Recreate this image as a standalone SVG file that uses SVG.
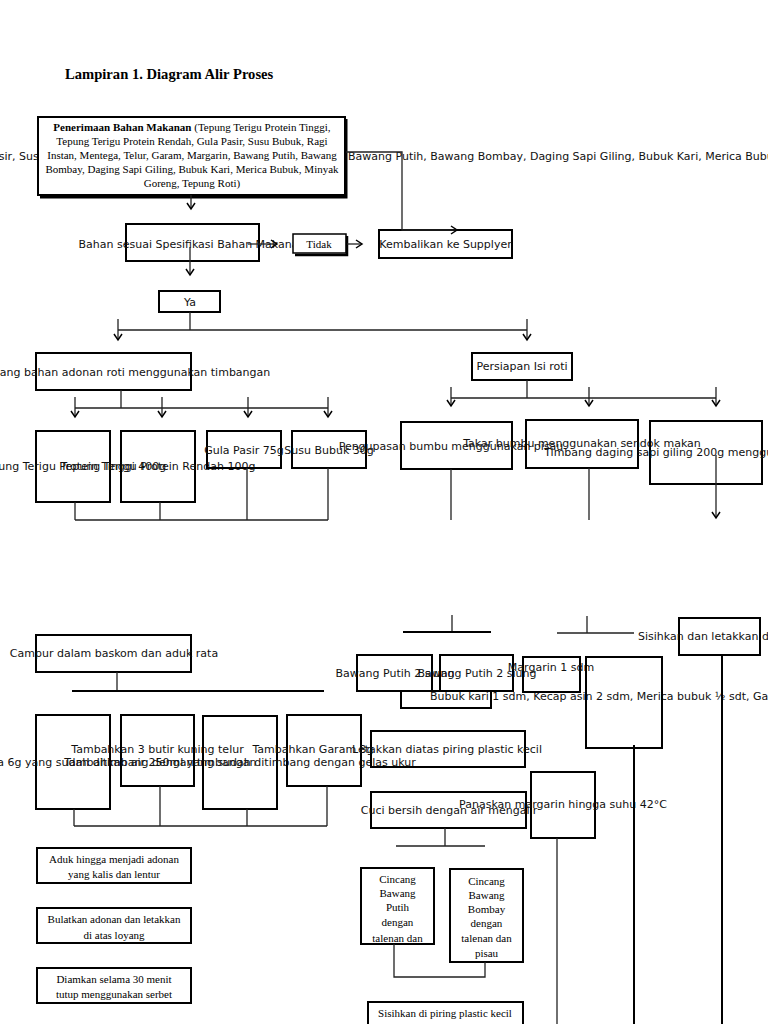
<svg xmlns="http://www.w3.org/2000/svg" width="768" height="1024" viewBox="0 0 768 1024">
<style>
.box{fill:none;stroke:#000;stroke-width:2}
.wbox{fill:#fff;stroke:#000;stroke-width:2}
.sans{font-family:"DejaVu Sans","Liberation Sans",sans-serif;font-size:11px;fill:#111}
.serif{font-family:"Liberation Serif","DejaVu Serif",serif;font-size:11px;fill:#000}
.c{text-anchor:middle}
.ln{fill:none;stroke:#222;stroke-width:1.3}
.thick{stroke:#000;stroke-width:2}
.arr{marker-end:url(#ah)}
</style>
<defs>
<marker id="ah" markerUnits="userSpaceOnUse" markerWidth="10" markerHeight="10" viewBox="-8 -5 10 10" refX="0" refY="0" orient="auto">
<path d="M-6,-4 L0,0 L-6,4" fill="none" stroke="#000" stroke-width="1.5"/>
</marker>
</defs>
<rect width="768" height="1024" fill="#fff"/>
<text x="65" y="79" font-family="Liberation Serif, serif" font-size="14.6" font-weight="bold">Lampiran 1. Diagram Alir Proses</text>

<g id="n-penerimaan">
<text class="sans" y="160"><tspan x="-43">Gula Pasir, Susu Bubuk,</tspan><tspan x="348">Bawang Putih, Bawang Bombay, Daging Sapi Giling, Bubuk Kari, Merica Bubuk, Minyak Goreng, Tepung Roti</tspan></text>
<rect class="wbox" x="38" y="117" width="307" height="78"/>
<path d="M346,119 V197 H40" fill="none" stroke="#000" stroke-width="3"/>
<text class="serif c" x="192" y="131"><tspan font-weight="bold">Penerimaan Bahan Makanan</tspan> (Tepung Terigu Protein Tinggi,</text>
<text class="serif c" x="192" y="145">Tepung Terigu Protein Rendah, Gula Pasir, Susu Bubuk, Ragi</text>
<text class="serif c" x="192" y="159">Instan, Mentega, Telur, Garam, Margarin, Bawang Putih, Bawang</text>
<text class="serif c" x="192" y="173">Bombay, Daging Sapi Giling, Bubuk Kari, Merica Bubuk, Minyak</text>
<text class="serif c" x="192" y="187">Goreng, Tepung Roti)</text>
</g>

<g id="n-bahan">
<rect class="box" x="126" y="224" width="133" height="37"/>
<text class="sans c" x="192" y="248">Bahan sesuai Spesifikasi Bahan Makanan</text>
</g>
<g id="n-tidak">
<rect x="293" y="234" width="53" height="19" fill="#fff" stroke="#000" stroke-width="1.5"/>
<path d="M347,236 V255 H295" fill="none" stroke="#000" stroke-width="2.5"/>
<text class="serif c" x="319" y="248" font-size="10">Tidak</text>
</g>
<g id="n-kembalikan">
<rect class="box" x="379" y="230" width="133" height="28"/>
<text class="sans c" x="445.5" y="248">Kembalikan ke Supplyer</text>
</g>
<g id="n-ya">
<rect class="box" x="159" y="291" width="61" height="21"/>
<text class="sans c" x="190" y="306">Ya</text>
</g>

<g id="n-menimbang">
<rect class="box" x="36" y="353" width="155" height="37"/>
<text class="sans c" x="113" y="376">Menimbang bahan adonan roti menggunakan timbangan</text>
</g>
<g id="n-tinggi">
<rect class="box" x="36" y="431" width="74" height="71"/>
<text class="sans c" x="73" y="470">Tepung Terigu Protein Tinggi 400g</text>
</g>
<g id="n-rendah">
<rect class="box" x="121" y="431" width="74" height="71"/>
<text class="sans c" x="158" y="470">Tepung Terigu Protein Rendah 100g</text>
</g>
<g id="n-gula">
<rect class="box" x="207" y="431" width="74" height="37"/>
<text class="sans c" x="244" y="454">Gula Pasir 75g</text>
</g>
<g id="n-susu">
<rect class="box" x="292" y="431" width="74" height="37"/>
<text class="sans c" x="329" y="454">Susu Bubuk  30g</text>
</g>

<g id="n-persiapan">
<rect class="box" x="472" y="353" width="100" height="27"/>
<text class="sans c" x="522" y="370">Persiapan Isi roti</text>
</g>
<g id="n-pengupasan">
<rect class="box" x="401" y="422" width="111" height="47"/>
<text class="sans c" x="451" y="450">Pengupasan bumbu menggunakan pisau</text>
</g>
<g id="n-takar">
<rect class="box" x="526" y="420" width="112" height="48"/>
<text class="sans c" x="582" y="447">Takar bumbu menggunakan sendok makan</text>
</g>
<g id="n-timbang">
<rect class="box" x="650" y="421" width="112" height="63"/>
<text class="sans c" x="707" y="456">Timbang daging sapi giling 200g menggunakan timbangan</text>
</g>

<g id="n-campur">
<rect class="box" x="36" y="635" width="155" height="37"/>
<text class="sans c" x="114" y="657">Campur dalam baskom dan aduk rata</text>
</g>
<g id="n-mentega">
<rect class="box" x="36" y="715" width="74" height="94"/>
<text class="sans c" x="73" y="766">Tambahkan Mentega 6g yang sudah ditimbang dengan timbangan</text>
</g>
<g id="n-telur">
<rect class="box" x="121" y="715" width="73" height="71"/>
<text class="sans c" x="157.5" y="753">Tambahkan 3 butir kuning telur</text>
</g>
<g id="n-air">
<rect class="box" x="203" y="716" width="74" height="93"/>
<text class="sans c" x="240" y="766">Tambahkan air 250ml yang sudah ditimbang dengan gelas ukur</text>
</g>
<g id="n-garam">
<rect class="box" x="287" y="715" width="74" height="71"/>
<text class="sans c" x="313" y="753">Tambahkan Garam 3g</text>
</g>

<g id="n-aduk">
<rect class="box" x="37" y="848" width="154" height="35"/>
<text class="serif c" x="114" y="863">Aduk hingga menjadi adonan</text>
<text class="serif c" x="114" y="878">yang kalis dan lentur</text>
</g>
<g id="n-bulatkan">
<rect class="box" x="37" y="908" width="154" height="35"/>
<text class="serif c" x="114" y="923">Bulatkan adonan dan letakkan</text>
<text class="serif c" x="114" y="939">di atas loyang</text>
</g>
<g id="n-diamkan">
<rect class="box" x="37" y="968" width="154" height="35"/>
<text class="serif c" x="114" y="983">Diamkan selama 30 menit</text>
<text class="serif c" x="114" y="998">tutup menggunakan serbet</text>
</g>

<g id="n-bubuk">
<rect class="box" x="401" y="691" width="90" height="17"/>
<text class="sans" x="430" y="700">Bubuk kari 1 sdm, Kecap asin 2 sdm, Merica bubuk ½ sdt, Garam ½ sdt</text>
</g>
<g id="n-bawang1">
<rect class="box" x="357" y="655" width="75" height="36"/>
<text class="sans c" x="395" y="677">Bawang Putih 2 siung</text>
</g>
<g id="n-bawang2">
<rect class="box" x="440" y="655" width="73" height="36"/>
<text class="sans c" x="477" y="677">Bawang Putih 2 siung</text>
</g>
<g id="n-margarin">
<rect class="box" x="523" y="657" width="57" height="35"/>
<text class="sans c" x="551" y="671">Margarin 1 sdm</text>
</g>
<g id="n-tall">
<rect class="box" x="586" y="657" width="76" height="91"/>
</g>
<g id="n-sisihkan-dl">
<rect class="box" x="679" y="618" width="81" height="37"/>
<text class="sans" x="638" y="640">Sisihkan dan letakkan di atas piring</text>
</g>
<g id="n-letakkan">
<rect class="box" x="371" y="731" width="154" height="36"/>
<text class="sans c" x="447" y="753">Letakkan diatas piring plastic kecil</text>
</g>
<g id="n-cuci">
<rect class="box" x="371" y="792" width="155" height="36"/>
<text class="sans c" x="449" y="814">Cuci bersih dengan air mengalir</text>
</g>
<g id="n-panaskan">
<rect class="box" x="531" y="772" width="64" height="66"/>
<text class="sans c" x="563" y="808">Panaskan  margarin hingga suhu 42°C</text>
</g>
<g id="n-cincang-putih">
<rect class="box" x="361" y="868" width="73" height="76"/>
<text class="serif c" x="397.5" y="883" font-size="10.5">Cincang</text>
<text class="serif c" x="397.5" y="897" font-size="10.5">Bawang</text>
<text class="serif c" x="397.5" y="911" font-size="10.5">Putih</text>
<text class="serif c" x="397.5" y="926" font-size="10.5">dengan</text>
<text class="serif c" x="397.5" y="942" font-size="10.5">talenan dan</text>
</g>
<g id="n-cincang-bombay">
<rect class="box" x="450" y="869" width="73" height="93"/>
<text class="serif c" x="486.5" y="885" font-size="10.5">Cincang</text>
<text class="serif c" x="486.5" y="899" font-size="10.5">Bawang</text>
<text class="serif c" x="486.5" y="913" font-size="10.5">Bombay</text>
<text class="serif c" x="486.5" y="927" font-size="10.5">dengan</text>
<text class="serif c" x="486.5" y="942" font-size="10.5">talenan dan</text>
<text class="serif c" x="486.5" y="957" font-size="10.5">pisau</text>
</g>
<g id="n-sisihkan-piring">
<rect class="box" x="368" y="1002" width="155" height="30"/>
<text class="serif c" x="445" y="1017" font-size="10.5">Sisihkan di piring plastic kecil</text>
</g>

<g id="connectors">
<path class="ln arr" d="M191,195 V209"/>
<path class="ln arr" d="M190,247 V275"/>
<path class="ln arr" d="M248,244 H277"/>
<path class="ln arr" d="M347,244 H362"/>
<path class="ln arr" d="M346,152 H402 V230 H457"/>
<path class="ln" d="M190,312 V330 M118,330 H527"/>
<path class="ln arr" d="M118,319 V340"/>
<path class="ln arr" d="M527,319 V340"/>
<path class="ln" d="M121,390 V408 M75,408 H328"/>
<path class="ln arr" d="M75,397 V417"/>
<path class="ln arr" d="M162,397 V417"/>
<path class="ln arr" d="M248,397 V417"/>
<path class="ln arr" d="M328,397 V417"/>
<path class="ln" d="M75,502 V520 M160,502 V520 M247,468 V520 M328,468 V520 M75,520 H328"/>
<path class="ln" d="M527,380 V398 M451,398 H716"/>
<path class="ln arr" d="M451,387 V406"/>
<path class="ln arr" d="M589,387 V406"/>
<path class="ln arr" d="M716,387 V406"/>
<path class="ln" d="M451,469 V520 M589,468 V520"/>
<path class="ln arr" d="M716,455 V518"/>
<path class="ln" d="M452,615 V632"/>
<path class="ln thick" d="M403,632 H491"/>
<path class="ln" d="M587,616 V633 M557,633 H634"/>
<path class="ln thick" d="M722,655 V1024 M634,745 V1024"/>
<path class="ln" d="M557,838 V1024"/>
<path class="ln" d="M117,672 V691"/>
<path class="ln thick" d="M72,691 H324"/>
<path class="ln" d="M74,809 V826 M160,786 V826 M247,809 V826 M327,786 V826 M74,826 H327"/>
<path class="ln" d="M445,828 V846 M396,846 H485"/>
<path class="ln" d="M394,944 V977 H485 V962"/>
</g>
</svg>
